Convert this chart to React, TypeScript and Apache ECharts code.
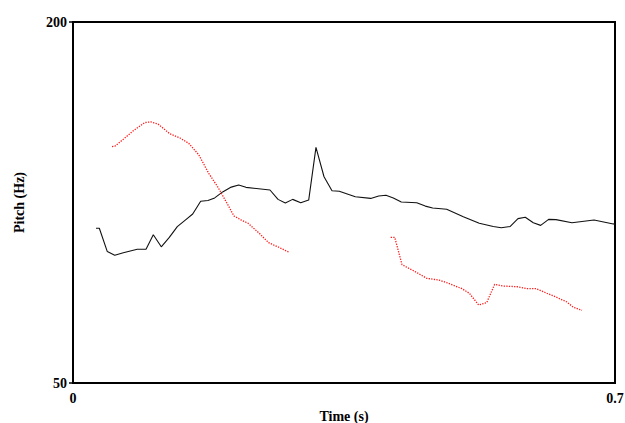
import React, { useEffect, useRef } from "react";
import * as echarts from "echarts";

// Pitch track of the first speaker (solid black), time in s / pitch in Hz
const blackTime = [
  0.0297, 0.034, 0.0443, 0.0539, 0.065, 0.083, 0.0943, 0.1037, 0.114, 0.1244,
  0.1347, 0.145, 0.1546, 0.1649, 0.1743, 0.183, 0.1933, 0.2044, 0.214, 0.2234,
  0.2544, 0.2648, 0.2742, 0.2837, 0.2941, 0.3044, 0.3138, 0.3242, 0.3345, 0.3439,
  0.3646, 0.3845, 0.3948, 0.4042, 0.4137, 0.424, 0.4439, 0.455, 0.4645, 0.4826,
  0.5041, 0.5247, 0.5428, 0.5531, 0.5644, 0.5747, 0.5841, 0.5945, 0.604, 0.6143,
  0.6238, 0.6444, 0.6729, 0.6978, 0.7,
];
const blackPitch = [
  114.3, 114.3, 104.6, 103.1, 104.1, 105.6, 105.6, 111.6, 106.6, 110.5,
  115.0, 117.7, 120.2, 125.5, 125.8, 126.9, 129.4, 131.4, 132.3, 131.3,
  130.2, 126.3, 124.8, 126.3, 124.9, 126.0, 147.9, 135.7, 129.9, 129.7,
  127.4, 126.7, 127.7, 128.0, 126.9, 125.2, 124.9, 123.5, 122.7, 122.2,
  119.1, 116.4, 115.0, 114.5, 115.0, 118.3, 118.9, 116.6, 115.5, 118.0,
  117.9, 116.6, 117.7, 116.1, 116.0,
];

// Pitch track of the second speaker (red dotted), two voiced stretches
const redTime1 = [
  0.0504, 0.0546, 0.065, 0.0779, 0.0926, 0.1003, 0.1098, 0.1253, 0.1382, 0.1494,
  0.1623, 0.1753, 0.1873, 0.1985, 0.2079, 0.2174, 0.226, 0.2406, 0.2527, 0.2657,
  0.2786,
];
const redPitch1 = [
  148.2, 148.5, 151.3, 154.8, 158.2, 158.5, 157.6, 153.5, 151.8, 149.6,
  144.9, 137.1, 131.3, 124.9, 119.4, 117.7, 116.4, 112.2, 108.3, 106.4,
  104.4,
];
const redTime2 = [
  0.4103, 0.4155, 0.4188, 0.4249, 0.431, 0.4413, 0.4568, 0.4723, 0.4826, 0.5024,
  0.5118, 0.524, 0.5343, 0.5446, 0.555, 0.5738, 0.5859, 0.598, 0.6118, 0.6247,
  0.6376, 0.6461, 0.6574,
];
const redPitch2 = [
  110.5, 110.5, 106.6, 99.2, 98.1, 96.4, 93.5, 92.8, 91.7, 89.2,
  87.3, 82.4, 83.4, 91.0, 90.3, 90.0, 89.2, 89.2, 87.3, 85.6,
  83.7, 81.5, 80.2,
];

const xTicks = [0, 0.7];
const yTicks = [50, 200];

const zip = (xs: number[], ys: number[]) => xs.map((x, i) => [x, ys[i]]);

const FONT = "'Liberation Serif', 'Times New Roman', serif";

export default function App() {
  const ref = useRef<HTMLDivElement>(null);

  useEffect(() => {
    if (!ref.current) return;
    const chart = echarts.init(ref.current, undefined, { renderer: "svg" });
    const redLine = {
      type: "line" as const,
      showSymbol: false,
      symbol: "none",
      lineStyle: { color: "#ff1a1a", width: 1.3, type: "dotted" as const },
      silent: true,
    };
    chart.setOption({
      animation: false,
      grid: {
        left: 73,
        right: 10,
        top: 22,
        bottom: 40,
        show: true,
        borderColor: "#000",
        borderWidth: 2,
        outerBoundsMode: "none",
        containLabel: false,
      },
      xAxis: {
        type: "value",
        min: 0,
        max: 0.7,
        name: "Time (s)",
        nameLocation: "middle",
        nameGap: 25,
        nameTextStyle: { fontFamily: FONT, fontWeight: "bold", fontSize: 14, color: "#000" },
        axisLine: { show: false },
        axisTick: { show: false },
        splitLine: { show: false },
        axisLabel: {
          customValues: xTicks,
          formatter: (v: number) => String(v),
          fontFamily: FONT,
          fontWeight: "bold",
          fontSize: 14,
          color: "#000",
          margin: 8,
          showMinLabel: true,
          showMaxLabel: true,
        },
      },
      yAxis: {
        type: "value",
        min: 50,
        max: 200,
        name: "Pitch (Hz)",
        nameLocation: "middle",
        nameRotate: 90,
        nameGap: 47,
        nameTextStyle: { fontFamily: FONT, fontWeight: "bold", fontSize: 14, color: "#000" },
        axisLine: { show: false },
        axisTick: {
          show: true,
          customValues: yTicks,
          length: 4,
          lineStyle: { color: "#000", width: 1.5 },
        },
        splitLine: { show: false },
        axisLabel: {
          customValues: yTicks,
          fontFamily: FONT,
          fontWeight: "bold",
          fontSize: 14,
          color: "#000",
          margin: 6,
          showMinLabel: true,
          showMaxLabel: true,
        },
      },
      series: [
        {
          type: "line",
          showSymbol: false,
          symbol: "none",
          data: zip(blackTime, blackPitch),
          lineStyle: { color: "#111", width: 1.1 },
          silent: true,
        },
        { ...redLine, data: zip(redTime1, redPitch1) },
        { ...redLine, data: zip(redTime2, redPitch2) },
      ],
    });
    return () => chart.dispose();
  }, []);

  return <div ref={ref} style={{ width: 625, height: 423, position: "absolute", left: 0, top: 0 }} />;
}
